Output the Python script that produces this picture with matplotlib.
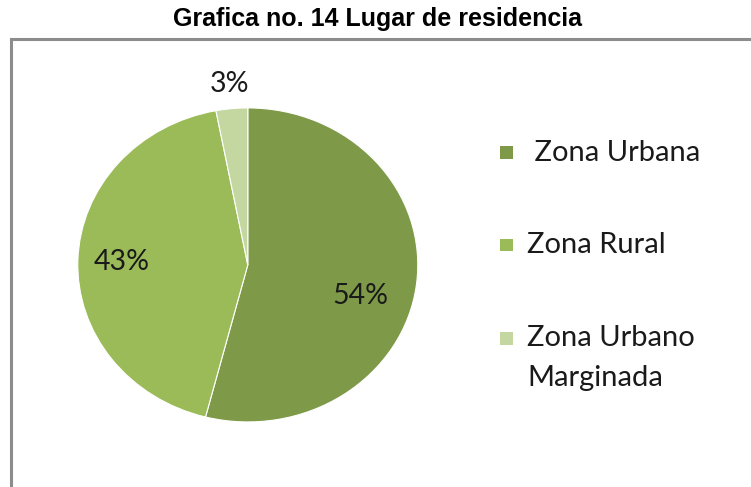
import matplotlib
matplotlib.use('Agg')
import matplotlib.pyplot as plt
from matplotlib.patches import Rectangle

# data
categories = [' Zona Urbana', 'Zona Rural', 'Zona Urbano\nMarginada']
values = [54, 43, 3]
pct_labels = ['54%', '43%', '3%']
colors = ['#7E9A48', '#9BBB59', '#C4D7A0']

fig = plt.figure(figsize=(7.51, 4.87), dpi=100)

# outer chart frame (cut off on right and bottom)
fig.add_artist(Rectangle((0.0146, -0.2), 1.2, 1.12, transform=fig.transFigure,
                         fill=False, edgecolor='#8c8c8c', lw=2.2))

fig.text(0.502, 0.961, 'Grafica no. 14 Lugar de residencia', ha='center', va='center',
         fontsize=18, fontweight='bold', family='Liberation Sans')

ax = fig.add_axes([0.330 - 0.2264, 0.456 - 0.3224, 0.4527, 0.6448])
wedges, _ = ax.pie(values, colors=colors, startangle=90, counterclock=False,
                   wedgeprops=dict(edgecolor='white', linewidth=0.8))
ax.set_aspect('auto')
ax.set_xlim(-1, 1)
ax.set_ylim(-1, 1)

# label positions (axes data coords)
label_pos = [(0.66, -0.20), (-0.74, 0.02), (-0.11, 1.15)]
for (x, y), t in zip(label_pos, pct_labels):
    ax.text(x, y, t, ha='center', va='center', fontsize=20.5, family='Lato', color='#1a1a1a')

# legend drawn manually to match layout
leg_y = [153, 245, 338]
for yy, lab, c in zip(leg_y, categories, colors):
    yf = 1 - yy / 487
    fig.add_artist(Rectangle((500 / 751, yf - 6.5 / 487), 13 / 751, 13 / 487,
                             transform=fig.transFigure, facecolor=c, edgecolor='none'))
    if '\n' in lab:
        fig.text(527 / 751, yf - 20 / 487, lab, ha='left', va='center',
                 fontsize=21, family='Lato', color='#1a1a1a', linespacing=1.65)
    else:
        fig.text(527 / 751, yf, lab, ha='left', va='center',
                 fontsize=21, family='Lato', color='#1a1a1a')

fig.savefig('out.png', dpi=100)
